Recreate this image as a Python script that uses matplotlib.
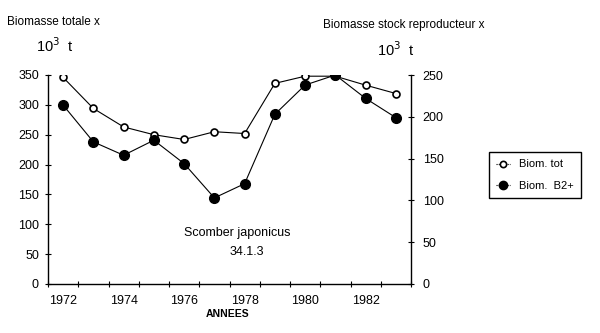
import matplotlib
matplotlib.use('Agg')
import matplotlib.pyplot as plt
import numpy as np
from matplotlib.lines import Line2D

plt.rcParams['font.family'] = ['Liberation Sans', 'DejaVu Sans']

# Données (Scomber japonicus 34.1.3)
annees = [1972, 1973, 1974, 1975, 1976, 1977, 1978, 1979, 1980, 1981, 1982, 1983]
biom_tot = [346, 294, 263, 250, 242, 255, 252, 336, 348, 348, 333, 319]   # axe gauche
biom_b2 = [214, 170, 154, 172, 144, 103, 120, 203, 238, 250, 222, 199]    # axe droit
labels_annees = [1972, 1974, 1976, 1978, 1980, 1982]
ticks_gauche = [0, 50, 100, 150, 200, 250, 300, 350]
ticks_droit = [0, 50, 100, 150, 200, 250]

W, H = 600, 333
fig = plt.figure(figsize=(W / 100, H / 100), dpi=100)
ax = fig.add_axes([48 / W, 1 - 284 / H, (411 - 48) / W, (284 - 75) / H])
ax2 = ax.twinx()

ax.plot(annees, biom_tot, color='black', lw=0.8, marker='o', ms=5,
        mfc='white', mec='black', mew=1.2, zorder=3)
ax2.plot(annees, biom_b2, color='black', lw=0.8, marker='o', ms=7,
         mfc='black', mec='black', zorder=3)

ax.set_xlim(1971.5, 1983.5)
ax.set_ylim(0, 350)
ax2.set_ylim(0, 250)

for a in (ax, ax2):
    a.spines['top'].set_visible(False)
    for s in a.spines.values():
        s.set_linewidth(1.0)
ax.spines['right'].set_visible(False)
ax2.spines['left'].set_visible(False)
ax2.spines['bottom'].set_visible(False)

ax.set_xticks(labels_annees)
ax.set_xticks(np.arange(1971.5, 1984, 1.0), minor=True)
ax.tick_params(axis='x', which='major', length=0, labelsize=9, pad=8)
ax.tick_params(axis='x', which='minor', direction='inout', length=5, width=0.8)
ax.set_yticks(ticks_gauche)
ax.tick_params(axis='y', direction='inout', length=5, width=0.8, labelsize=9, pad=4)
ax2.set_yticks(ticks_droit)
ax2.tick_params(axis='y', direction='inout', length=5, width=0.8, labelsize=9, pad=6)


def fpx(x, y, s, **kw):
    fig.text(x / W, 1 - y / H, s, **kw)


fpx(237, 233, 'Scomber japonicus', fontsize=9, ha='center', va='center')
fpx(247, 252, '34.1.3', fontsize=9, ha='center', va='center')
fpx(228, 314, 'ANNEES', fontsize=7.5, ha='center', va='center', fontweight='bold')
fpx(7, 22, 'Biomasse totale x', fontsize=8.5, ha='left', va='center')
fpx(36, 46, r'10$^3$  t', fontsize=10.5, ha='left', va='center')
fpx(323, 25, 'Biomasse stock reproducteur x', fontsize=8.5, ha='left', va='center')
fpx(377, 50, r'10$^3$  t', fontsize=10.5, ha='left', va='center')

handles = [
    Line2D([], [], color='black', lw=0.8, ls=(0, (1, 1)), marker='o', ms=4.5,
           mfc='white', mec='black', mew=1.2),
    Line2D([], [], color='black', lw=0.8, ls=(0, (1, 1)), marker='o', ms=6,
           mfc='black', mec='black'),
]
leg = fig.legend(handles, ['Biom. tot', 'Biom.  B2+'], loc='center left',
                 bbox_to_anchor=(483 / W, 1 - 175 / H), fontsize=8,
                 handlelength=1.2, handletextpad=0.8, labelspacing=1.0,
                 fancybox=False, edgecolor='black', framealpha=1,
                 borderpad=0.7)
leg.get_frame().set_linewidth(1.0)

fig.savefig('out.png', dpi=100)
